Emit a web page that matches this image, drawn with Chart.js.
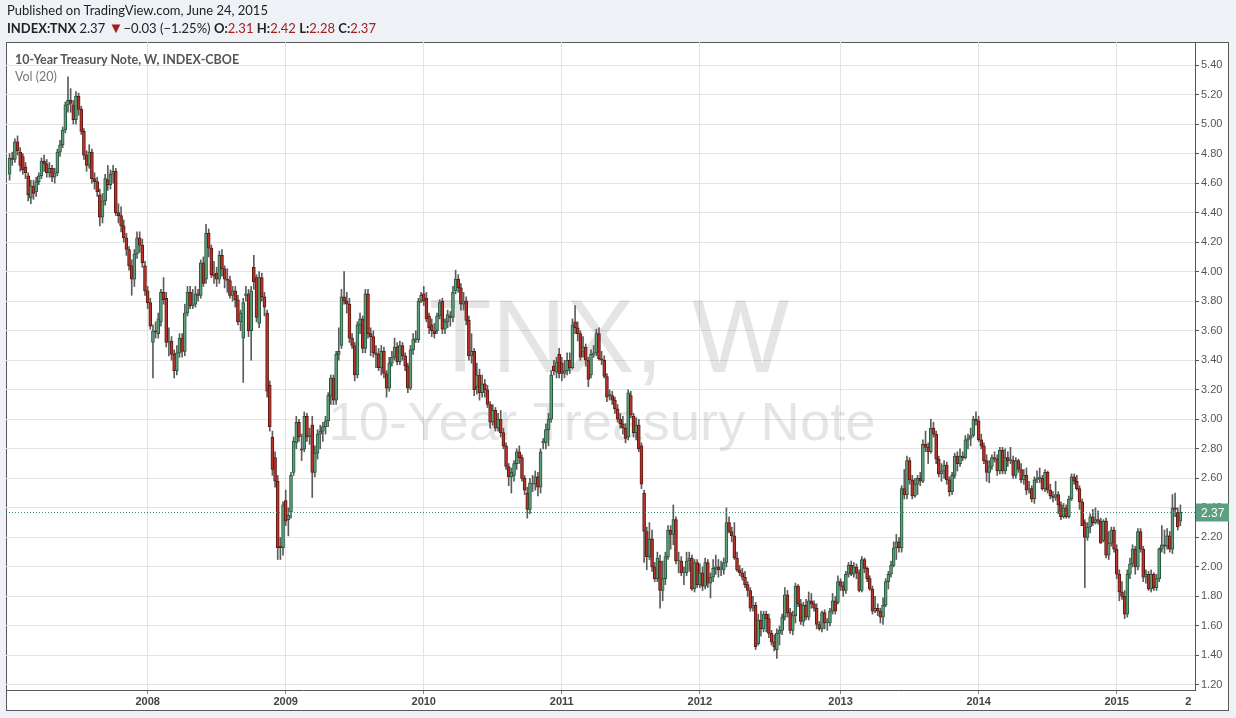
<!DOCTYPE html>
<html>
<head>
<meta charset="utf-8">
<title>10-Year Treasury Note, W</title>
<script src="https://cdn.jsdelivr.net/npm/chart.js@4.4.0/dist/chart.umd.min.js"></script>
<style>
  html, body { margin: 0; padding: 0; background: #eef1f5; }
  #wrap { position: relative; width: 1236px; height: 718px; overflow: hidden; }
  #chart { position: absolute; left: 0; top: 0; }
  .hdr { position: absolute; left: 7px; font-family: Lato, sans-serif; font-size: 13px; color: #222; white-space: nowrap; }
  #line1 { top: 2px; }
  #line2 { top: 20px; }
  .b { font-weight: bold; }
  .v { color: #a3201f; }
  .tri { color: #a3201f; font-size: 15px; line-height: 13px; }
  .legend { position: absolute; left: 15px; font-family: Lato, sans-serif; font-size: 12.5px; color: #555; white-space: nowrap; }
  #leg1 { top: 52px; font-weight: bold; }
  #leg2 { top: 69px; color: #777; }
</style>
</head>
<body>
<div id="wrap">
  <canvas id="chart" width="1236" height="718"></canvas>
  <div class="hdr" id="line1">Published on TradingView.com, June 24, 2015</div>
  <div class="hdr" id="line2"><span class="b">INDEX:TNX</span> 2.37 <span class="tri">&#9660;</span>&minus;0.03 (&minus;1.25%) <span class="b">O:</span><span class="v">2.31</span> <span class="b">H:</span><span class="v">2.42</span> <span class="b">L:</span><span class="v">2.28</span> <span class="b">C:</span><span class="v">2.37</span></div>
  <div class="legend" id="leg1">10-Year Treasury Note, W, INDEX-CBOE</div>
  <div class="legend" id="leg2">Vol (20)</div>
</div>
<script>
// Weekly bars, one line per calendar year (first bar: week of 2007-01-08)
const opens = [
  4.66,4.77,4.76,4.88,4.81,4.78,4.71,4.65,4.50,4.58,4.54,4.61,4.65,4.75,4.73,4.67,4.70,4.64,4.67,4.81,4.86,4.96,5.13,5.16,5.13,5.03,5.19,5.10,4.95,4.79,4.72,4.81,4.63,4.61,4.52,4.37,4.48,4.62,4.59,4.66,4.68,4.40,4.38,4.31,4.23,4.15,4.04,3.95,4.12,4.23,4.18,4.04,
  3.87,3.79,3.52,3.60,3.58,3.66,3.86,3.82,3.52,3.53,3.44,3.33,3.45,3.55,3.46,3.72,3.86,3.77,3.78,3.85,3.84,4.06,3.95,4.26,4.16,3.98,3.99,3.95,4.11,4.02,3.95,3.94,3.84,3.87,3.81,3.66,3.55,3.84,3.85,3.60,4.03,3.96,3.65,3.96,3.83,3.72,3.23,2.88,2.74,2.58,2.14,2.13,
  2.45,2.32,2.37,2.64,2.84,2.98,2.80,2.80,3.02,2.88,2.96,2.64,2.77,2.90,2.92,2.95,2.99,3.16,3.28,3.13,3.44,3.50,3.83,3.80,3.78,3.55,3.50,3.30,3.64,3.68,3.48,3.85,3.58,3.56,3.45,3.44,3.35,3.46,3.31,3.21,3.38,3.42,3.49,3.39,3.50,3.43,3.36,3.21,3.47,3.54,3.54,3.80,
  3.85,3.82,3.70,3.64,3.60,3.60,3.70,3.80,3.61,3.66,3.70,3.69,3.87,3.95,3.89,3.78,3.80,3.67,3.43,3.46,3.22,3.30,3.18,3.24,3.20,3.10,2.98,3.06,2.94,3.00,2.91,2.82,2.68,2.61,2.62,2.70,2.78,2.74,2.60,2.50,2.39,2.56,2.56,2.61,2.54,2.84,2.84,2.93,3.00,3.36,3.32,3.44,
  3.38,3.31,3.33,3.40,3.35,3.66,3.62,3.58,3.46,3.49,3.40,3.30,3.44,3.45,3.58,3.41,3.40,3.29,3.16,3.16,3.13,3.07,3.00,2.97,2.94,2.88,3.16,3.02,2.91,2.96,2.82,2.50,2.24,2.07,2.19,2.00,1.92,2.04,1.84,1.92,2.07,2.25,2.22,2.32,2.04,2.04,1.96,1.96,2.04,2.06,1.85,2.03,
  1.88,1.96,1.87,2.03,1.89,1.93,1.99,2.00,1.98,1.98,2.03,2.30,2.24,2.21,2.06,1.98,1.96,1.93,1.88,1.84,1.72,1.74,1.48,1.64,1.58,1.68,1.65,1.55,1.49,1.44,1.55,1.57,1.66,1.81,1.69,1.57,1.67,1.87,1.75,1.63,1.74,1.66,1.77,1.75,1.72,1.61,1.58,1.69,1.62,1.62,1.70,1.77,
  1.76,1.90,1.87,1.84,1.95,2.01,1.95,2.00,1.96,1.84,2.05,1.99,1.92,1.85,1.70,1.72,1.70,1.66,1.74,1.90,1.95,2.01,2.13,2.17,2.13,2.53,2.49,2.72,2.59,2.48,2.56,2.60,2.58,2.83,2.81,2.78,2.94,2.90,2.73,2.63,2.65,2.69,2.59,2.51,2.62,2.75,2.70,2.75,2.74,2.86,2.87,2.89,
  3.00,2.99,2.86,2.82,2.72,2.64,2.68,2.74,2.73,2.65,2.79,2.65,2.74,2.72,2.72,2.62,2.72,2.66,2.59,2.62,2.52,2.53,2.46,2.59,2.60,2.60,2.53,2.64,2.52,2.48,2.47,2.49,2.42,2.34,2.40,2.34,2.46,2.61,2.58,2.53,2.44,2.30,2.20,2.27,2.34,2.30,2.32,2.31,2.18,2.31,2.08,2.16,
  2.25,2.12,1.95,1.83,1.80,1.68,1.95,2.02,2.12,2.00,2.24,2.12,1.93,1.95,1.85,1.95,1.86,1.92,2.12,2.15,2.14,2.21,2.12,2.40,2.37,2.31
];
const highs = [
  4.80,4.81,4.90,4.92,4.84,4.80,4.74,4.67,4.62,4.62,4.64,4.67,4.77,4.79,4.76,4.74,4.72,4.70,4.83,4.89,4.98,5.15,5.32,5.24,5.16,5.22,5.21,5.12,4.97,4.82,4.86,4.83,4.67,4.64,4.56,4.53,4.66,4.72,4.69,4.72,4.70,4.46,4.44,4.35,4.26,4.17,4.08,4.15,4.27,4.27,4.22,4.07,
  3.90,3.82,3.64,3.66,3.72,3.88,3.96,3.86,3.62,3.56,3.47,3.50,3.58,3.58,3.78,3.90,3.90,3.88,3.90,3.88,4.08,4.10,4.32,4.29,4.18,4.07,4.03,4.14,4.15,4.04,4.02,3.97,3.90,3.90,3.84,3.74,3.82,3.90,3.88,3.90,4.11,3.98,4.00,3.99,3.86,3.74,3.26,2.92,2.78,2.62,2.20,2.44,
  2.52,2.40,2.64,2.88,3.02,3.00,2.90,3.05,3.04,2.94,3.02,2.82,2.93,2.96,2.98,3.02,3.18,3.30,3.30,3.46,3.62,3.88,4.00,3.86,3.82,3.58,3.52,3.66,3.72,3.70,3.88,3.88,3.62,3.60,3.50,3.48,3.50,3.49,3.33,3.42,3.46,3.55,3.52,3.53,3.52,3.45,3.38,3.50,3.58,3.60,3.82,3.86,
  3.90,3.86,3.72,3.68,3.65,3.72,3.81,3.82,3.68,3.74,3.73,3.90,4.01,3.98,3.92,3.86,3.83,3.70,3.58,3.48,3.38,3.34,3.30,3.27,3.23,3.12,3.10,3.08,3.04,3.06,2.94,2.84,2.70,2.67,2.72,2.80,2.82,2.76,2.62,2.54,2.60,2.62,2.65,2.64,2.80,2.87,2.97,3.04,3.33,3.40,3.42,3.48,
  3.42,3.40,3.45,3.45,3.68,3.77,3.66,3.60,3.56,3.51,3.42,3.47,3.50,3.61,3.62,3.46,3.43,3.31,3.20,3.19,3.15,3.10,3.04,3.02,2.97,3.20,3.19,3.04,3.01,3.00,2.84,2.52,2.27,2.30,2.25,2.03,2.10,2.08,2.04,2.10,2.28,2.28,2.42,2.34,2.10,2.07,2.00,2.10,2.10,2.08,2.05,2.05,
  2.02,2.00,2.06,2.05,1.96,2.05,2.08,2.05,2.04,2.06,2.40,2.34,2.27,2.30,2.10,2.01,1.99,1.97,1.90,1.86,1.80,1.76,1.68,1.70,1.70,1.70,1.68,1.57,1.54,1.58,1.60,1.68,1.86,1.84,1.72,1.70,1.89,1.88,1.78,1.76,1.78,1.83,1.82,1.77,1.75,1.63,1.70,1.71,1.65,1.72,1.82,1.80,
  1.94,1.92,1.90,1.97,2.03,2.04,2.03,2.02,1.98,2.07,2.06,2.00,1.94,1.87,1.80,1.75,1.72,1.79,1.92,1.97,2.04,2.17,2.22,2.20,2.55,2.66,2.75,2.74,2.62,2.60,2.62,2.64,2.86,2.92,2.84,3.00,2.98,2.92,2.75,2.70,2.72,2.71,2.61,2.64,2.77,2.78,2.80,2.78,2.89,2.90,2.94,3.02,
  3.05,3.02,2.90,2.84,2.76,2.72,2.76,2.78,2.76,2.81,2.81,2.80,2.78,2.81,2.75,2.74,2.73,2.70,2.66,2.67,2.58,2.55,2.61,2.65,2.67,2.62,2.66,2.65,2.56,2.51,2.58,2.51,2.44,2.43,2.42,2.48,2.63,2.63,2.62,2.55,2.46,2.32,2.30,2.36,2.39,2.40,2.38,2.33,2.32,2.33,2.24,2.27,
  2.27,2.15,1.98,1.90,1.84,1.98,2.06,2.15,2.14,2.26,2.26,2.14,1.98,1.97,1.98,1.96,1.95,2.13,2.28,2.25,2.26,2.24,2.49,2.50,2.40,2.42
];
const lows = [
  4.62,4.72,4.74,4.79,4.68,4.66,4.63,4.48,4.46,4.49,4.51,4.59,4.63,4.68,4.64,4.64,4.61,4.60,4.65,4.78,4.84,4.94,5.08,5.08,5.00,5.00,5.06,4.93,4.76,4.68,4.70,4.60,4.56,4.51,4.31,4.33,4.45,4.55,4.56,4.60,4.38,4.33,4.27,4.20,4.11,4.01,3.84,3.90,4.09,4.13,4.03,3.84,
  3.75,3.61,3.28,3.55,3.55,3.63,3.78,3.49,3.43,3.40,3.28,3.30,3.42,3.42,3.43,3.70,3.75,3.75,3.76,3.80,3.82,3.90,3.92,4.10,3.96,3.92,3.90,3.92,3.97,3.89,3.86,3.82,3.80,3.76,3.64,3.60,3.25,3.80,3.56,3.40,3.88,3.66,3.62,3.80,3.70,3.15,2.92,2.62,2.54,2.05,2.05,2.08,
  2.28,2.21,2.33,2.62,2.80,2.85,2.72,2.78,2.85,2.83,2.47,2.61,2.73,2.80,2.85,2.90,2.95,3.10,3.10,3.10,3.40,3.48,3.78,3.72,3.52,3.48,3.26,3.28,3.58,3.45,3.45,3.55,3.43,3.42,3.35,3.33,3.30,3.28,3.15,3.19,3.36,3.40,3.37,3.37,3.40,3.33,3.18,3.20,3.44,3.52,3.52,3.79,
  3.77,3.66,3.58,3.56,3.55,3.58,3.68,3.58,3.58,3.62,3.63,3.66,3.85,3.86,3.74,3.74,3.64,3.40,3.38,3.16,3.17,3.13,3.15,3.15,3.08,2.94,2.96,2.92,2.92,2.88,2.80,2.66,2.55,2.50,2.58,2.66,2.70,2.58,2.49,2.33,2.36,2.51,2.52,2.48,2.50,2.80,2.80,2.82,2.98,3.30,3.28,3.28,
  3.26,3.28,3.30,3.31,3.34,3.58,3.53,3.40,3.42,3.36,3.22,3.28,3.42,3.43,3.40,3.37,3.28,3.12,3.13,3.10,3.04,2.98,2.94,2.90,2.84,2.86,3.01,2.88,2.86,2.78,2.53,2.03,1.98,2.05,1.97,1.90,1.90,1.72,1.77,1.88,2.05,2.12,2.15,2.02,1.96,1.94,1.88,1.94,1.97,1.84,1.83,1.86,
  1.86,1.84,1.85,1.86,1.79,1.90,1.95,1.93,1.94,1.95,2.00,2.23,2.17,2.05,1.97,1.94,1.91,1.86,1.80,1.70,1.70,1.44,1.47,1.53,1.56,1.56,1.52,1.47,1.43,1.38,1.47,1.54,1.64,1.66,1.55,1.54,1.62,1.73,1.61,1.60,1.64,1.64,1.72,1.70,1.58,1.57,1.56,1.58,1.57,1.60,1.68,1.68,
  1.75,1.84,1.80,1.82,1.93,1.94,1.93,1.92,1.83,1.83,1.96,1.90,1.84,1.68,1.69,1.67,1.62,1.61,1.73,1.85,1.93,2.00,2.05,2.10,2.10,2.46,2.46,2.56,2.46,2.47,2.49,2.55,2.57,2.78,2.70,2.77,2.88,2.70,2.61,2.58,2.60,2.56,2.48,2.49,2.60,2.65,2.68,2.72,2.73,2.80,2.82,2.88,
  2.96,2.85,2.80,2.70,2.58,2.57,2.66,2.71,2.62,2.63,2.63,2.63,2.68,2.70,2.60,2.60,2.64,2.57,2.56,2.49,2.50,2.44,2.43,2.57,2.57,2.52,2.51,2.50,2.46,2.44,2.45,2.36,2.32,2.33,2.33,2.33,2.45,2.56,2.52,2.39,2.28,1.86,2.18,2.23,2.28,2.29,2.29,2.16,2.17,2.06,2.05,2.14,
  2.10,1.92,1.77,1.78,1.65,1.66,1.92,2.00,1.95,1.98,2.10,1.90,1.89,1.84,1.83,1.84,1.84,1.90,2.10,2.09,2.12,2.10,2.09,2.34,2.25,2.28
];
const closes = [
  4.77,4.76,4.88,4.82,4.72,4.69,4.67,4.52,4.58,4.53,4.61,4.65,4.75,4.73,4.67,4.70,4.64,4.67,4.81,4.86,4.96,5.13,5.16,5.14,5.03,5.19,5.10,4.95,4.79,4.72,4.81,4.63,4.61,4.54,4.37,4.48,4.63,4.59,4.66,4.68,4.40,4.38,4.31,4.23,4.15,4.04,3.95,4.12,4.23,4.18,4.06,3.87,
  3.79,3.63,3.60,3.59,3.68,3.86,3.81,3.52,3.53,3.44,3.33,3.45,3.55,3.46,3.72,3.86,3.77,3.78,3.85,3.84,4.06,3.92,4.26,4.16,3.98,3.97,3.95,4.11,4.02,3.95,3.94,3.84,3.87,3.81,3.66,3.72,3.79,3.85,3.60,3.87,3.93,3.69,3.96,3.83,3.76,3.19,2.95,2.66,2.58,2.13,2.13,2.42,
  2.31,2.35,2.62,2.85,2.98,2.88,2.79,3.02,2.88,2.89,2.64,2.77,2.90,2.92,2.95,2.99,3.16,3.28,3.13,3.44,3.46,3.83,3.80,3.78,3.55,3.50,3.30,3.64,3.68,3.48,3.85,3.58,3.56,3.45,3.44,3.35,3.46,3.31,3.21,3.38,3.42,3.49,3.39,3.50,3.43,3.36,3.21,3.47,3.54,3.54,3.80,3.84,
  3.80,3.68,3.62,3.60,3.58,3.70,3.79,3.61,3.66,3.71,3.69,3.86,3.95,3.89,3.78,3.80,3.67,3.43,3.46,3.20,3.30,3.18,3.24,3.20,3.10,2.98,3.06,2.94,3.00,2.91,2.82,2.68,2.61,2.64,2.70,2.78,2.74,2.60,2.52,2.39,2.57,2.56,2.61,2.54,2.78,2.85,2.93,3.00,3.30,3.33,3.39,3.31,
  3.31,3.33,3.40,3.35,3.64,3.62,3.58,3.42,3.49,3.40,3.27,3.44,3.45,3.58,3.41,3.40,3.29,3.15,3.17,3.13,3.07,3.00,2.97,2.94,2.87,3.18,3.03,2.91,2.96,2.80,2.56,2.24,2.07,2.19,2.00,1.92,2.06,1.84,1.92,2.07,2.25,2.22,2.32,2.04,2.04,1.96,1.96,2.04,2.06,1.85,2.03,1.88,
  1.96,1.87,2.03,1.89,1.93,1.99,2.00,1.98,1.98,2.03,2.30,2.24,2.21,2.06,1.98,1.96,1.93,1.88,1.84,1.72,1.74,1.46,1.64,1.58,1.68,1.65,1.55,1.49,1.46,1.55,1.57,1.66,1.81,1.69,1.57,1.67,1.87,1.75,1.63,1.74,1.66,1.77,1.75,1.72,1.61,1.58,1.69,1.62,1.62,1.70,1.77,1.70,
  1.90,1.87,1.84,1.95,2.01,1.95,2.00,1.96,1.84,2.05,1.99,1.92,1.85,1.70,1.72,1.70,1.66,1.74,1.90,1.95,2.01,2.13,2.17,2.13,2.53,2.49,2.72,2.59,2.48,2.56,2.60,2.58,2.83,2.81,2.78,2.94,2.90,2.73,2.63,2.65,2.69,2.59,2.51,2.62,2.75,2.70,2.75,2.74,2.86,2.87,2.89,3.00,
  2.99,2.86,2.82,2.72,2.64,2.68,2.74,2.73,2.65,2.79,2.65,2.74,2.72,2.72,2.62,2.72,2.66,2.59,2.62,2.52,2.53,2.46,2.59,2.60,2.60,2.53,2.64,2.52,2.48,2.47,2.49,2.42,2.34,2.40,2.34,2.46,2.61,2.58,2.53,2.44,2.28,2.20,2.27,2.34,2.30,2.32,2.31,2.16,2.31,2.08,2.16,2.25,
  2.12,1.95,1.83,1.80,1.68,1.95,2.02,2.12,2.00,2.24,2.12,1.93,1.95,1.85,1.95,1.86,1.92,2.12,2.15,2.14,2.21,2.12,2.40,2.39,2.27,2.37
];

const firstWeek = '2007-01-08';
const yearLabels = ['2008', '2009', '2010', '2011', '2012', '2013', '2014', '2015'];
const trailingLabel = '2';
const yTicks = [1.2, 1.4, 1.6, 1.8, 2.0, 2.2, 2.4, 2.6, 2.8, 3.0, 3.2, 3.4, 3.6, 3.8, 4.0, 4.2, 4.4, 4.6, 4.8, 5.0, 5.2, 5.4];

// view window
const xMin = -1.35, xMax = 446.5;
const yMin = 1.166, yMax = 5.556;

const upFill = '#5f9f7c', upLine = '#24573c';
const downFill = '#b8332a', downLine = '#5e1811';
const wickColor = '#5c5c5c';
const gridColor = '#e4e4e4';

// week dates for each bar
const start = new Date(firstWeek + 'T00:00:00Z');
const weekDates = closes.map((_, i) => new Date(start.getTime() + i * 7 * 86400000));

// x ticks: first weekly bar of each year, plus the clipped label at the right
const xTickMap = {};
yearLabels.forEach(y => {
    const idx = weekDates.findIndex(d => d.getUTCFullYear() === Number(y));
    xTickMap[idx] = y;
});
const trailingPos = closes.length + 2;
xTickMap[trailingPos] = trailingLabel;
const xTickValues = Object.keys(xTickMap).map(Number);

const bodies = closes.map((c, i) => ({ x: i, y: [opens[i], c] }));
const wicks = closes.map((c, i) => ({ x: i, y: [lows[i], highs[i]] }));
const isUp = i => closes[i] >= opens[i];

const lastClose = closes[closes.length - 1];

// page frame, white panel and watermark
const framePlugin = {
    id: 'frame',
    beforeDraw(chart) {
        const ctx = chart.ctx;
        ctx.save();
        ctx.fillStyle = '#eef1f5';
        ctx.fillRect(0, 0, chart.width, chart.height);
        ctx.fillStyle = '#ffffff';
        ctx.fillRect(6, 42, 1223, 669);
        ctx.strokeStyle = '#5a5a5a';
        ctx.lineWidth = 1;
        ctx.strokeRect(6.5, 42.5, 1222, 668);
        ctx.restore();
    },
    beforeDatasetsDraw(chart) {
        const ctx = chart.ctx;
        ctx.save();
        ctx.fillStyle = 'rgba(0,0,0,0.10)';
        ctx.textAlign = 'center';
        ctx.textBaseline = 'alphabetic';
        ctx.font = '103px "Liberation Sans", Arial, sans-serif';
        ctx.fillText('TNX, W', 609, 372);
        ctx.font = '54.5px "Liberation Sans", Arial, sans-serif';
        ctx.fillText('10-Year Treasury Note', 602, 440);
        ctx.restore();
    }
};

// dotted last-price line and its label
const lastPricePlugin = {
    id: 'lastPrice',
    afterDatasetsDraw(chart) {
        const ctx = chart.ctx;
        const a = chart.chartArea;
        const y = Math.round(chart.scales.y.getPixelForValue(lastClose)) + 0.5;
        ctx.save();
        ctx.strokeStyle = '#3f8f74';
        ctx.lineWidth = 1;
        ctx.setLineDash([1, 2]);
        ctx.beginPath();
        ctx.moveTo(a.left, y);
        ctx.lineTo(a.right, y);
        ctx.stroke();
        ctx.setLineDash([]);
        ctx.fillStyle = '#5b9f80';
        ctx.fillRect(a.right + 1, y - 9, 33, 18);
        ctx.fillStyle = '#ffffff';
        ctx.font = '12px "Liberation Sans", Arial, sans-serif';
        ctx.textBaseline = 'middle';
        ctx.fillText(lastClose.toFixed(2), a.right + 6, y + 1);
        ctx.restore();
    }
};

new Chart(document.getElementById('chart'), {
    type: 'bar',
    data: {
        datasets: [
            {
                label: 'body',
                data: bodies,
                grouped: false,
                barThickness: 3,
                minBarLength: 1,
                borderWidth: 1,
                borderSkipped: false,
                backgroundColor: ctx => isUp(ctx.dataIndex) ? upFill : downFill,
                borderColor: ctx => isUp(ctx.dataIndex) ? upLine : downLine
            },
            {
                label: 'wick',
                data: wicks,
                grouped: false,
                barThickness: 1,
                borderWidth: 0,
                backgroundColor: wickColor
            }
        ]
    },
    options: {
        responsive: false,
        animation: false,
        devicePixelRatio: 1,
        layout: { padding: { top: 42, left: 6, right: 0, bottom: 0 } },
        plugins: { legend: { display: false }, tooltip: { enabled: false } },
        scales: {
            x: {
                type: 'linear',
                position: 'bottom',
                offset: false,
                min: xMin,
                max: xMax,
                afterBuildTicks: axis => { axis.ticks = xTickValues.map(v => ({ value: v })); },
                afterFit: axis => { axis.height = 28; },
                ticks: {
                    autoSkip: false,
                    maxRotation: 0,
                    padding: 1,
                    color: '#444',
                    font: { family: '"Liberation Sans", Arial, sans-serif', size: 11, weight: 'bold' },
                    callback: v => xTickMap[v] || ''
                },
                grid: {
                    offset: false,
                    color: ctx => (ctx.tick && ctx.tick.value === trailingPos) ? 'rgba(0,0,0,0)' : gridColor,
                    tickColor: ctx => (ctx.tick && ctx.tick.value === trailingPos) ? 'rgba(0,0,0,0)' : '#888',
                    tickLength: 4
                },
                border: { color: '#555' }
            },
            y: {
                type: 'linear',
                position: 'right',
                min: yMin,
                max: yMax,
                afterBuildTicks: axis => { axis.ticks = yTicks.map(v => ({ value: v })); },
                afterFit: axis => { axis.width = 41; },
                ticks: {
                    padding: 2,
                    color: '#555',
                    font: { family: '"Liberation Sans", Arial, sans-serif', size: 11 },
                    callback: v => Number(v).toFixed(2)
                },
                grid: { color: gridColor, tickColor: '#555', tickLength: 4 },
                border: { color: '#555' }
            }
        }
    },
    plugins: [framePlugin, lastPricePlugin]
});
</script>
</body>
</html>
